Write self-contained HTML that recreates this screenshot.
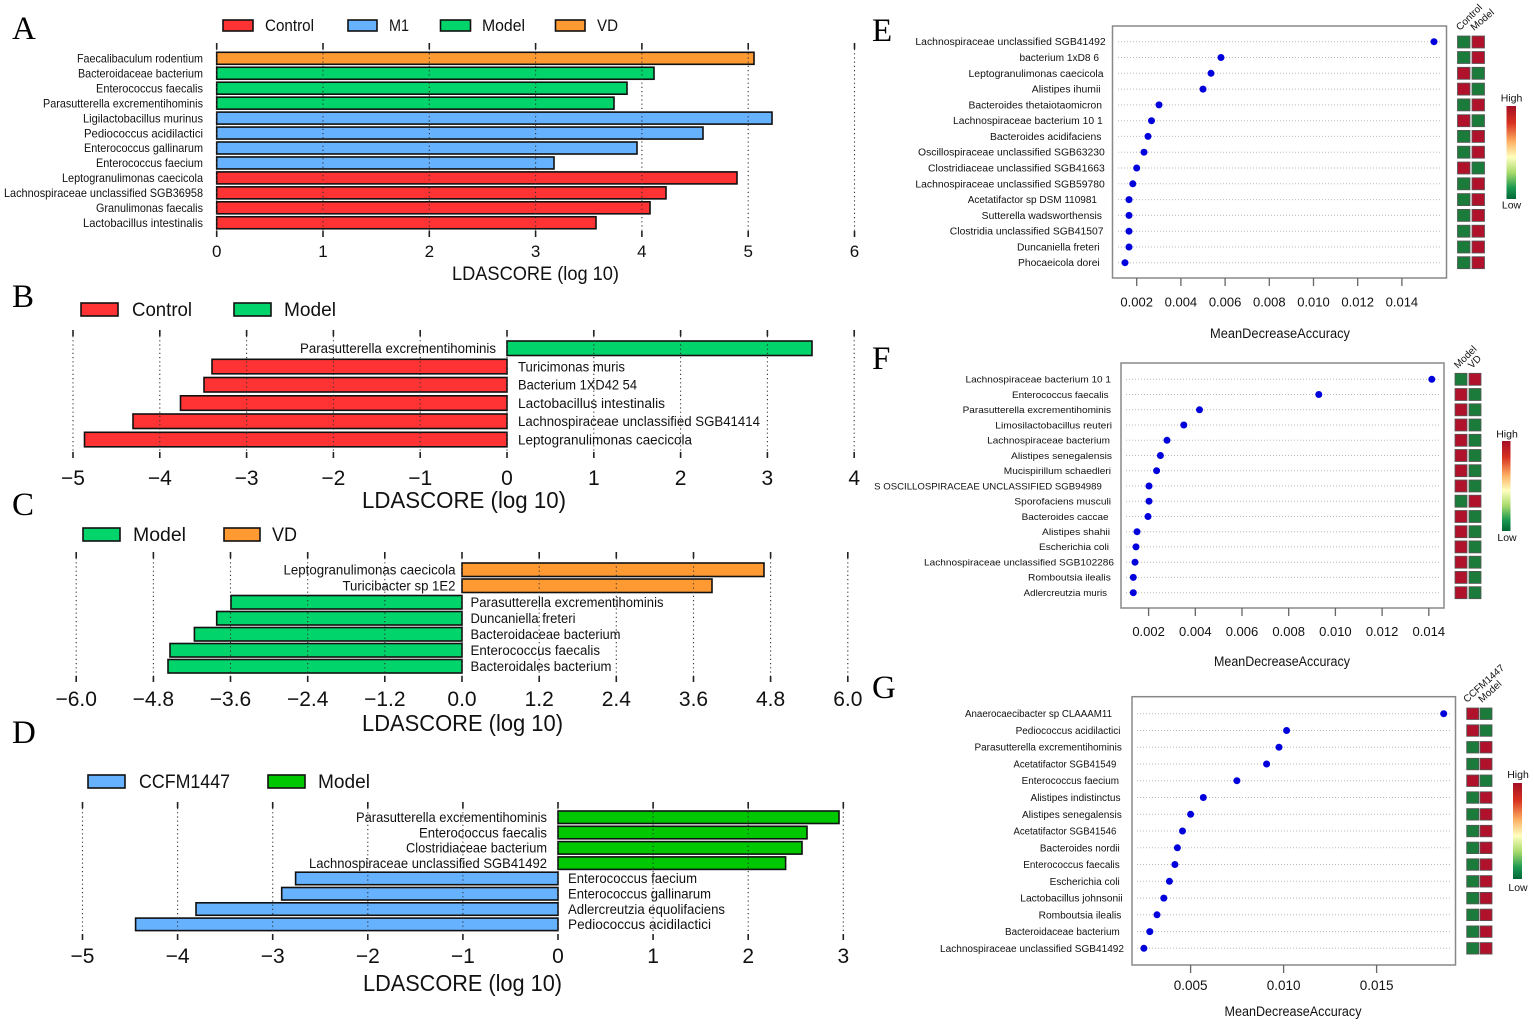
<!DOCTYPE html>
<html><head><meta charset="utf-8"><style>
html,body{margin:0;padding:0;background:#fff;}
svg{display:block;}
text{font-family:"Liberation Sans",Arial,sans-serif;fill:#111;}
.L{font-family:"Liberation Serif","Times New Roman",serif;font-size:33px;fill:#000;}
.grid{stroke:#333;stroke-width:1.1;stroke-dasharray:1.2 3;fill:none;}
.tk{stroke:#222;stroke-width:1.6;fill:none;}
.bar{stroke:#111;stroke-width:1.6;}
.r{fill:#FF3333}.b{fill:#66B2FF}.g{fill:#00D46A}.o{fill:#FF9A33}.g2{fill:#00C800}
.hr{fill:#B0122C;stroke:#555;stroke-width:0.8}.hg{fill:#1B7B3A;stroke:#555;stroke-width:0.8}
.rl{stroke:#bbb;stroke-width:1;stroke-dasharray:1 2;}
.box{fill:none;stroke:#888;stroke-width:1.5}
.dot{fill:#0000DD}
</style></head><body>
<svg width="1535" height="1027" viewBox="0 0 1535 1027" xmlns="http://www.w3.org/2000/svg">
<defs>
<linearGradient id="cb" x1="0" y1="0" x2="0" y2="1">
<stop offset="0" stop-color="#A50F26"/>
<stop offset="0.18" stop-color="#D7301F"/>
<stop offset="0.38" stop-color="#FDAE61"/>
<stop offset="0.55" stop-color="#FFFFBF"/>
<stop offset="0.72" stop-color="#A6D96A"/>
<stop offset="0.88" stop-color="#1A9850"/>
<stop offset="1" stop-color="#006837"/>
</linearGradient>
</defs>
<rect width="1535" height="1027" fill="#fff"/>

<!-- ================= PANEL A ================= -->
<text class="L" x="12" y="39">A</text>
<rect class="bar r" x="223" y="20" width="30" height="11"/>
<text x="265" y="31" font-size="17" textLength="49" lengthAdjust="spacingAndGlyphs">Control</text>
<rect class="bar b" x="348" y="20" width="29" height="11"/>
<text x="389" y="31" font-size="17" textLength="20" lengthAdjust="spacingAndGlyphs">M1</text>
<rect class="bar g" x="440.5" y="20" width="30" height="11"/>
<text x="482" y="31" font-size="17" textLength="43" lengthAdjust="spacingAndGlyphs">Model</text>
<rect class="bar o" x="555.5" y="20" width="29.5" height="11"/>
<text x="597" y="31" font-size="17" textLength="21" lengthAdjust="spacingAndGlyphs">VD</text>

<rect class="bar o" x="216.7" y="52.3" width="537.3" height="12"/>
<rect class="bar g" x="216.7" y="67.25" width="437.3" height="12"/>
<rect class="bar g" x="216.7" y="82.2" width="410.3" height="12"/>
<rect class="bar g" x="216.7" y="97.15" width="397.3" height="12"/>
<rect class="bar b" x="216.7" y="112.1" width="555.3" height="12"/>
<rect class="bar b" x="216.7" y="127.05" width="486.3" height="12"/>
<rect class="bar b" x="216.7" y="142" width="420.3" height="12"/>
<rect class="bar b" x="216.7" y="156.95" width="337.3" height="12"/>
<rect class="bar r" x="216.7" y="171.9" width="520.3" height="12"/>
<rect class="bar r" x="216.7" y="186.85" width="449.3" height="12"/>
<rect class="bar r" x="216.7" y="201.8" width="433.3" height="12"/>
<rect class="bar r" x="216.7" y="216.75" width="379.3" height="12"/>
<path class="grid" d="M216.7 49V231M323 49V231M429.3 49V231M535.6 49V231M641.9 49V231M748.2 49V231M854.5 49V231"/>
<path class="tk" d="M216.7 43V49M323 43V49M429.3 43V49M535.6 43V49M641.9 43V49M748.2 43V49M854.5 43V49M216.7 231V237M323 231V237M429.3 231V237M535.6 231V237M641.9 231V237M748.2 231V237M854.5 231V237"/>
<g font-size="12" text-anchor="end">
<text x="203" y="62.5" textLength="126" lengthAdjust="spacingAndGlyphs">Faecalibaculum rodentium</text>
<text x="203" y="77.45" textLength="125" lengthAdjust="spacingAndGlyphs">Bacteroidaceae bacterium</text>
<text x="203" y="92.4" textLength="107" lengthAdjust="spacingAndGlyphs">Enterococcus faecalis</text>
<text x="203" y="107.35" textLength="160" lengthAdjust="spacingAndGlyphs">Parasutterella excrementihominis</text>
<text x="203" y="122.3" textLength="120" lengthAdjust="spacingAndGlyphs">Ligilactobacillus murinus</text>
<text x="203" y="137.25" textLength="119" lengthAdjust="spacingAndGlyphs">Pediococcus acidilactici</text>
<text x="203" y="152.2" textLength="119" lengthAdjust="spacingAndGlyphs">Enterococcus gallinarum</text>
<text x="203" y="167.15" textLength="107" lengthAdjust="spacingAndGlyphs">Enterococcus faecium</text>
<text x="203" y="182.1" textLength="141" lengthAdjust="spacingAndGlyphs">Leptogranulimonas caecicola</text>
<text x="203" y="197.05" textLength="199" lengthAdjust="spacingAndGlyphs">Lachnospiraceae unclassified SGB36958</text>
<text x="203" y="212" textLength="107" lengthAdjust="spacingAndGlyphs">Granulimonas faecalis</text>
<text x="203" y="226.95" textLength="120" lengthAdjust="spacingAndGlyphs">Lactobacillus intestinalis</text>
</g>
<g font-size="17" text-anchor="middle">
<text x="216.7" y="257">0</text><text x="323" y="257">1</text><text x="429.3" y="257">2</text><text x="535.6" y="257">3</text><text x="641.9" y="257">4</text><text x="748.2" y="257">5</text><text x="854.5" y="257">6</text>
</g>
<text x="452" y="280" font-size="19" textLength="167" lengthAdjust="spacingAndGlyphs">LDASCORE (log 10)</text>

<!-- ================= PANEL B ================= -->
<text class="L" x="12" y="307">B</text>
<rect class="bar r" x="81" y="303" width="37" height="13"/>
<text x="132" y="316" font-size="19" textLength="60" lengthAdjust="spacingAndGlyphs">Control</text>
<rect class="bar g" x="234" y="303" width="37" height="13"/>
<text x="284" y="316" font-size="19" textLength="52" lengthAdjust="spacingAndGlyphs">Model</text>

<rect class="bar g" x="507" y="341" width="305" height="14.5"/>
<rect class="bar r" x="212" y="359.3" width="295" height="14.5"/>
<rect class="bar r" x="204" y="377.5" width="303" height="14.5"/>
<rect class="bar r" x="180.5" y="395.8" width="326.5" height="14.5"/>
<rect class="bar r" x="133" y="414" width="374" height="14.5"/>
<rect class="bar r" x="84.5" y="432.3" width="422.5" height="14.5"/>
<path class="grid" d="M73 336V452M159.8 336V452M246.6 336V452M333.4 336V452M420.2 336V452M507 336V452M593.8 336V452M680.6 336V452M767.4 336V452M854.2 336V452"/>
<path class="tk" d="M73 330V336M159.8 330V336M246.6 330V336M333.4 330V336M420.2 330V336M507 330V336M593.8 330V336M680.6 330V336M767.4 330V336M854.2 330V336M73 452V458M159.8 452V458M246.6 452V458M333.4 452V458M420.2 452V458M507 452V458M593.8 452V458M680.6 452V458M767.4 452V458M854.2 452V458"/>
<g font-size="13.5">
<text x="496" y="353" text-anchor="end" textLength="196" lengthAdjust="spacingAndGlyphs">Parasutterella excrementihominis</text>
<text x="518" y="371.3" textLength="107" lengthAdjust="spacingAndGlyphs">Turicimonas muris</text>
<text x="518" y="389.5" textLength="119" lengthAdjust="spacingAndGlyphs">Bacterium 1XD42 54</text>
<text x="518" y="407.8" textLength="147" lengthAdjust="spacingAndGlyphs">Lactobacillus intestinalis</text>
<text x="518" y="426" textLength="242" lengthAdjust="spacingAndGlyphs">Lachnospiraceae unclassified SGB41414</text>
<text x="518" y="444.3" textLength="174" lengthAdjust="spacingAndGlyphs">Leptogranulimonas caecicola</text>
</g>
<g font-size="21" text-anchor="middle">
<text x="73" y="485">−5</text><text x="159.8" y="485">−4</text><text x="246.6" y="485">−3</text><text x="333.4" y="485">−2</text><text x="420.2" y="485">−1</text><text x="507" y="485">0</text><text x="593.8" y="485">1</text><text x="680.6" y="485">2</text><text x="767.4" y="485">3</text><text x="854.2" y="485">4</text>
</g>
<text x="362" y="508" font-size="23" textLength="204" lengthAdjust="spacingAndGlyphs">LDASCORE (log 10)</text>

<!-- ================= PANEL C ================= -->
<text class="L" x="12" y="515">C</text>
<rect class="bar g" x="83" y="528" width="37" height="13"/>
<text x="133" y="541" font-size="19" textLength="53" lengthAdjust="spacingAndGlyphs">Model</text>
<rect class="bar o" x="224" y="528" width="36" height="13"/>
<text x="272" y="541" font-size="19" textLength="25" lengthAdjust="spacingAndGlyphs">VD</text>

<rect class="bar o" x="462" y="563" width="302" height="13.5"/>
<rect class="bar o" x="462" y="579" width="250" height="13.5"/>
<rect class="bar g" x="231" y="595.5" width="231" height="13.5"/>
<rect class="bar g" x="216.7" y="611.5" width="245.3" height="13.5"/>
<rect class="bar g" x="194.4" y="627.5" width="267.6" height="13.5"/>
<rect class="bar g" x="170" y="643.5" width="292" height="13.5"/>
<rect class="bar g" x="168" y="659.5" width="294" height="13.5"/>
<path class="grid" d="M76.2 558V676M153.4 558V676M230.5 558V676M307.7 558V676M384.8 558V676M462 558V676M539.2 558V676M616.3 558V676M693.5 558V676M770.6 558V676M847.8 558V676"/>
<path class="tk" d="M76.2 552V558M153.4 552V558M230.5 552V558M307.7 552V558M384.8 552V558M462 552V558M539.2 552V558M616.3 552V558M693.5 552V558M770.6 552V558M847.8 552V558M76.2 676V682M153.4 676V682M230.5 676V682M307.7 676V682M384.8 676V682M462 676V682M539.2 676V682M616.3 676V682M693.5 676V682M770.6 676V682M847.8 676V682"/>
<g font-size="13.5">
<text x="455.5" y="574.5" text-anchor="end" textLength="172" lengthAdjust="spacingAndGlyphs">Leptogranulimonas caecicola</text>
<text x="455.5" y="590.5" text-anchor="end" textLength="113" lengthAdjust="spacingAndGlyphs">Turicibacter sp 1E2</text>
<text x="470.5" y="607" textLength="193" lengthAdjust="spacingAndGlyphs">Parasutterella excrementihominis</text>
<text x="470.5" y="623" textLength="105" lengthAdjust="spacingAndGlyphs">Duncaniella freteri</text>
<text x="470.5" y="639" textLength="150" lengthAdjust="spacingAndGlyphs">Bacteroidaceae bacterium</text>
<text x="470.5" y="655" textLength="129.5" lengthAdjust="spacingAndGlyphs">Enterococcus faecalis</text>
<text x="470.5" y="671" textLength="141" lengthAdjust="spacingAndGlyphs">Bacteroidales bacterium</text>
</g>
<g font-size="21" text-anchor="middle">
<text x="76.2" y="706">−6.0</text><text x="153.4" y="706">−4.8</text><text x="230.5" y="706">−3.6</text><text x="307.7" y="706">−2.4</text><text x="384.8" y="706">−1.2</text><text x="462" y="706">0.0</text><text x="539.2" y="706">1.2</text><text x="616.3" y="706">2.4</text><text x="693.5" y="706">3.6</text><text x="770.6" y="706">4.8</text><text x="847.8" y="706">6.0</text>
</g>
<text x="362" y="731" font-size="23" textLength="201" lengthAdjust="spacingAndGlyphs">LDASCORE (log 10)</text>

<!-- ================= PANEL D ================= -->
<text class="L" x="12" y="743">D</text>
<rect class="bar b" x="88" y="775" width="37" height="13"/>
<text x="139" y="788" font-size="19" textLength="91" lengthAdjust="spacingAndGlyphs">CCFM1447</text>
<rect class="bar g2" x="268" y="775" width="37" height="13"/>
<text x="318" y="788" font-size="19" textLength="52" lengthAdjust="spacingAndGlyphs">Model</text>

<rect class="bar g2" x="558" y="811" width="281" height="12.5"/>
<rect class="bar g2" x="558" y="826.3" width="249" height="12.5"/>
<rect class="bar g2" x="558" y="841.6" width="244" height="12.5"/>
<rect class="bar g2" x="558" y="856.9" width="227.6" height="12.5"/>
<rect class="bar b" x="295.6" y="872.2" width="262.4" height="12.5"/>
<rect class="bar b" x="281.7" y="887.5" width="276.3" height="12.5"/>
<rect class="bar b" x="196" y="902.8" width="362" height="12.5"/>
<rect class="bar b" x="135.6" y="918.1" width="422.4" height="12.5"/>
<path class="grid" d="M82.5 808V934M177.6 808V934M272.7 808V934M367.8 808V934M462.9 808V934M558 808V934M653.1 808V934M748.2 808V934M843.3 808V934"/>
<path class="tk" d="M82.5 802V808M177.6 802V808M272.7 802V808M367.8 802V808M462.9 802V808M558 802V808M653.1 802V808M748.2 802V808M843.3 802V808M82.5 934V940M177.6 934V940M272.7 934V940M367.8 934V940M462.9 934V940M558 934V940M653.1 934V940M748.2 934V940M843.3 934V940"/>
<g font-size="14">
<text x="547" y="822" text-anchor="end" textLength="191" lengthAdjust="spacingAndGlyphs">Parasutterella excrementihominis</text>
<text x="547" y="837.3" text-anchor="end" textLength="128" lengthAdjust="spacingAndGlyphs">Enterococcus faecalis</text>
<text x="547" y="852.6" text-anchor="end" textLength="141" lengthAdjust="spacingAndGlyphs">Clostridiaceae bacterium</text>
<text x="547" y="867.9" text-anchor="end" textLength="238" lengthAdjust="spacingAndGlyphs">Lachnospiraceae unclassified SGB41492</text>
<text x="568" y="883.2" textLength="129" lengthAdjust="spacingAndGlyphs">Enterococcus faecium</text>
<text x="568" y="898.5" textLength="143" lengthAdjust="spacingAndGlyphs">Enterococcus gallinarum</text>
<text x="568" y="913.8" textLength="157" lengthAdjust="spacingAndGlyphs">Adlercreutzia equolifaciens</text>
<text x="568" y="929.1" textLength="143" lengthAdjust="spacingAndGlyphs">Pediococcus acidilactici</text>
</g>
<g font-size="21" text-anchor="middle">
<text x="82.5" y="963">−5</text><text x="177.6" y="963">−4</text><text x="272.7" y="963">−3</text><text x="367.8" y="963">−2</text><text x="462.9" y="963">−1</text><text x="558" y="963">0</text><text x="653.1" y="963">1</text><text x="748.2" y="963">2</text><text x="843.3" y="963">3</text>
</g>
<text x="363" y="991" font-size="23" textLength="199" lengthAdjust="spacingAndGlyphs">LDASCORE (log 10)</text>

<!-- ================= PANEL E ================= -->
<text class="L" x="872" y="41">E</text>
<path class="rl" d="M1118 41.7H1442M1118 57.5H1442M1118 73.3H1442M1118 89.1H1442M1118 104.9H1442M1118 120.7H1442M1118 136.4H1442M1118 152.2H1442M1118 168H1442M1118 183.8H1442M1118 199.6H1442M1118 215.4H1442M1118 231.2H1442M1118 247H1442M1118 262.7H1442"/>
<rect class="box" x="1112.5" y="26" width="334" height="252"/>
<g class="dot">
<circle cx="1434" cy="41.7" r="3.5"/><circle cx="1221" cy="57.5" r="3.5"/><circle cx="1211" cy="73.3" r="3.5"/><circle cx="1203" cy="89.1" r="3.5"/><circle cx="1159" cy="104.9" r="3.5"/><circle cx="1151.5" cy="120.7" r="3.5"/><circle cx="1148" cy="136.4" r="3.5"/><circle cx="1144" cy="152.2" r="3.5"/><circle cx="1136.7" cy="168" r="3.5"/><circle cx="1132.8" cy="183.8" r="3.5"/><circle cx="1129" cy="199.6" r="3.5"/><circle cx="1129" cy="215.4" r="3.5"/><circle cx="1129" cy="231.2" r="3.5"/><circle cx="1129" cy="247" r="3.5"/><circle cx="1125" cy="262.7" r="3.5"/>
</g>
<g font-size="10">
<text x="915.4" y="45.2" textLength="190.3" lengthAdjust="spacingAndGlyphs">Lachnospiraceae unclassified SGB41492</text>
<text x="1019.5" y="61" textLength="79.5" lengthAdjust="spacingAndGlyphs">bacterium 1xD8 6</text>
<text x="968.5" y="76.8" textLength="135" lengthAdjust="spacingAndGlyphs">Leptogranulimonas caecicola</text>
<text x="1031.8" y="92.6" textLength="68.8" lengthAdjust="spacingAndGlyphs">Alistipes ihumii</text>
<text x="968.5" y="108.4" textLength="133.5" lengthAdjust="spacingAndGlyphs">Bacteroides thetaiotaomicron</text>
<text x="953" y="124.2" textLength="149.7" lengthAdjust="spacingAndGlyphs">Lachnospiraceae bacterium 10 1</text>
<text x="990" y="139.9" textLength="111.4" lengthAdjust="spacingAndGlyphs">Bacteroides acidifaciens</text>
<text x="918" y="155.7" textLength="186.8" lengthAdjust="spacingAndGlyphs">Oscillospiraceae unclassified SGB63230</text>
<text x="928" y="171.5" textLength="176.8" lengthAdjust="spacingAndGlyphs">Clostridiaceae unclassified SGB41663</text>
<text x="915.4" y="187.3" textLength="189.4" lengthAdjust="spacingAndGlyphs">Lachnospiraceae unclassified SGB59780</text>
<text x="967.7" y="203.1" textLength="129.3" lengthAdjust="spacingAndGlyphs">Acetatifactor sp DSM 110981</text>
<text x="981.7" y="218.9" textLength="120.3" lengthAdjust="spacingAndGlyphs">Sutterella wadsworthensis</text>
<text x="949.8" y="234.7" textLength="153.7" lengthAdjust="spacingAndGlyphs">Clostridia unclassified SGB41507</text>
<text x="1017" y="250.5" textLength="82.7" lengthAdjust="spacingAndGlyphs">Duncaniella freteri</text>
<text x="1018" y="266.2" textLength="81.7" lengthAdjust="spacingAndGlyphs">Phocaeicola dorei</text>
</g>
<path d="M1136.7 278V286M1180.9 278V286M1225.1 278V286M1269.3 278V286M1313.5 278V286M1357.7 278V286M1401.9 278V286" stroke="#666" stroke-width="1.3"/>
<g font-size="13" text-anchor="middle" fill="#222">
<text x="1136.7" y="306.7">0.002</text><text x="1180.9" y="306.7">0.004</text><text x="1225.1" y="306.7">0.006</text><text x="1269.3" y="306.7">0.008</text><text x="1313.5" y="306.7">0.010</text><text x="1357.7" y="306.7">0.012</text><text x="1401.9" y="306.7">0.014</text>
</g>
<text x="1280" y="338" font-size="13.5" text-anchor="middle" textLength="140" lengthAdjust="spacingAndGlyphs">MeanDecreaseAccuracy</text>
<!-- E heatmap -->
<g>
<rect class="hg" x="1457.5" y="36" width="12.5" height="12"/><rect class="hr" x="1472" y="36" width="12.5" height="12"/>
<rect class="hg" x="1457.5" y="51.5" width="12.5" height="12"/><rect class="hr" x="1472" y="51.5" width="12.5" height="12"/>
<rect class="hr" x="1457.5" y="67.3" width="12.5" height="12"/><rect class="hg" x="1472" y="67.3" width="12.5" height="12"/>
<rect class="hr" x="1457.5" y="83.1" width="12.5" height="12"/><rect class="hg" x="1472" y="83.1" width="12.5" height="12"/>
<rect class="hg" x="1457.5" y="98.9" width="12.5" height="12"/><rect class="hr" x="1472" y="98.9" width="12.5" height="12"/>
<rect class="hr" x="1457.5" y="114.7" width="12.5" height="12"/><rect class="hg" x="1472" y="114.7" width="12.5" height="12"/>
<rect class="hg" x="1457.5" y="130.4" width="12.5" height="12"/><rect class="hr" x="1472" y="130.4" width="12.5" height="12"/>
<rect class="hg" x="1457.5" y="146.2" width="12.5" height="12"/><rect class="hr" x="1472" y="146.2" width="12.5" height="12"/>
<rect class="hr" x="1457.5" y="162" width="12.5" height="12"/><rect class="hg" x="1472" y="162" width="12.5" height="12"/>
<rect class="hg" x="1457.5" y="177.8" width="12.5" height="12"/><rect class="hr" x="1472" y="177.8" width="12.5" height="12"/>
<rect class="hg" x="1457.5" y="193.6" width="12.5" height="12"/><rect class="hr" x="1472" y="193.6" width="12.5" height="12"/>
<rect class="hg" x="1457.5" y="209.4" width="12.5" height="12"/><rect class="hr" x="1472" y="209.4" width="12.5" height="12"/>
<rect class="hg" x="1457.5" y="225.2" width="12.5" height="12"/><rect class="hr" x="1472" y="225.2" width="12.5" height="12"/>
<rect class="hg" x="1457.5" y="241" width="12.5" height="12"/><rect class="hr" x="1472" y="241" width="12.5" height="12"/>
<rect class="hg" x="1457.5" y="256.7" width="12.5" height="12"/><rect class="hr" x="1472" y="256.7" width="12.5" height="12"/>
</g>
<text x="1460" y="31" font-size="10" fill="#222" transform="rotate(-45 1460 31)">Control</text>
<text x="1474" y="31" font-size="10" fill="#222" transform="rotate(-40 1474 31)">Model</text>
<rect x="1506.5" y="106" width="9.5" height="93" fill="url(#cb)"/>
<text x="1511.5" y="101.7" font-size="10.5" text-anchor="middle" fill="#222">High</text>
<text x="1511.5" y="208.5" font-size="10.5" text-anchor="middle" fill="#222">Low</text>

<!-- ================= PANEL F ================= -->
<text class="L" x="872" y="369">F</text>
<path class="rl" d="M1126 379.3H1439M1126 394.5H1439M1126 409.8H1439M1126 425H1439M1126 440.3H1439M1126 455.5H1439M1126 470.7H1439M1126 486H1439M1126 501.2H1439M1126 516.5H1439M1126 531.7H1439M1126 546.9H1439M1126 562.2H1439M1126 577.4H1439M1126 592.7H1439"/>
<rect class="box" x="1121" y="363" width="323" height="245"/>
<g class="dot">
<circle cx="1431.8" cy="379.3" r="3.5"/><circle cx="1318.8" cy="394.5" r="3.5"/><circle cx="1199.5" cy="409.8" r="3.5"/><circle cx="1183.8" cy="425" r="3.5"/><circle cx="1167" cy="440.3" r="3.5"/><circle cx="1160.4" cy="455.5" r="3.5"/><circle cx="1156.6" cy="470.7" r="3.5"/><circle cx="1149" cy="486" r="3.5"/><circle cx="1149" cy="501.2" r="3.5"/><circle cx="1148" cy="516.5" r="3.5"/><circle cx="1137" cy="531.7" r="3.5"/><circle cx="1136" cy="546.9" r="3.5"/><circle cx="1135" cy="562.2" r="3.5"/><circle cx="1133.3" cy="577.4" r="3.5"/><circle cx="1133.3" cy="592.7" r="3.5"/>
</g>
<g font-size="9.5">
<text x="965.5" y="382.6" textLength="145.5" lengthAdjust="spacingAndGlyphs">Lachnospiraceae bacterium 10 1</text>
<text x="1012" y="397.8" textLength="96.6" lengthAdjust="spacingAndGlyphs">Enterococcus faecalis</text>
<text x="962.6" y="413.1" textLength="148.4" lengthAdjust="spacingAndGlyphs">Parasutterella excrementihominis</text>
<text x="995.3" y="428.3" textLength="116.7" lengthAdjust="spacingAndGlyphs">Limosilactobacillus reuteri</text>
<text x="987.2" y="443.6" textLength="122.8" lengthAdjust="spacingAndGlyphs">Lachnospiraceae bacterium</text>
<text x="1011" y="458.8" textLength="101" lengthAdjust="spacingAndGlyphs">Alistipes senegalensis</text>
<text x="1003.8" y="474" textLength="107.2" lengthAdjust="spacingAndGlyphs">Mucispirillum schaedleri</text>
<text x="874.2" y="489.3" textLength="227.6" lengthAdjust="spacingAndGlyphs">S OSCILLOSPIRACEAE UNCLASSIFIED SGB94989</text>
<text x="1014.4" y="504.5" textLength="96.6" lengthAdjust="spacingAndGlyphs">Sporofaciens musculi</text>
<text x="1021.6" y="519.8" textLength="87" lengthAdjust="spacingAndGlyphs">Bacteroides caccae</text>
<text x="1042" y="535" textLength="68" lengthAdjust="spacingAndGlyphs">Alistipes shahii</text>
<text x="1039" y="550.2" textLength="70" lengthAdjust="spacingAndGlyphs">Escherichia coli</text>
<text x="924" y="565.5" textLength="190" lengthAdjust="spacingAndGlyphs">Lachnospiraceae unclassified SGB102286</text>
<text x="1028" y="580.7" textLength="82.8" lengthAdjust="spacingAndGlyphs">Romboutsia ilealis</text>
<text x="1023.7" y="596" textLength="83.3" lengthAdjust="spacingAndGlyphs">Adlercreutzia muris</text>
</g>
<path d="M1148.6 608V616M1195.3 608V616M1242 608V616M1288.7 608V616M1335.4 608V616M1382.1 608V616M1428.8 608V616" stroke="#666" stroke-width="1.3"/>
<g font-size="13" text-anchor="middle" fill="#222">
<text x="1148.6" y="636">0.002</text><text x="1195.3" y="636">0.004</text><text x="1242" y="636">0.006</text><text x="1288.7" y="636">0.008</text><text x="1335.4" y="636">0.010</text><text x="1382.1" y="636">0.012</text><text x="1428.8" y="636">0.014</text>
</g>
<text x="1282" y="666" font-size="13.5" text-anchor="middle" textLength="136" lengthAdjust="spacingAndGlyphs">MeanDecreaseAccuracy</text>
<!-- F heatmap -->
<g>
<rect class="hg" x="1455" y="373.3" width="12" height="12"/><rect class="hr" x="1469" y="373.3" width="12" height="12"/>
<rect class="hr" x="1455" y="388.5" width="12" height="12"/><rect class="hg" x="1469" y="388.5" width="12" height="12"/>
<rect class="hr" x="1455" y="403.8" width="12" height="12"/><rect class="hg" x="1469" y="403.8" width="12" height="12"/>
<rect class="hr" x="1455" y="419" width="12" height="12"/><rect class="hg" x="1469" y="419" width="12" height="12"/>
<rect class="hr" x="1455" y="434.3" width="12" height="12"/><rect class="hg" x="1469" y="434.3" width="12" height="12"/>
<rect class="hr" x="1455" y="449.5" width="12" height="12"/><rect class="hg" x="1469" y="449.5" width="12" height="12"/>
<rect class="hr" x="1455" y="464.7" width="12" height="12"/><rect class="hg" x="1469" y="464.7" width="12" height="12"/>
<rect class="hr" x="1455" y="480" width="12" height="12"/><rect class="hg" x="1469" y="480" width="12" height="12"/>
<rect class="hg" x="1455" y="495.2" width="12" height="12"/><rect class="hr" x="1469" y="495.2" width="12" height="12"/>
<rect class="hr" x="1455" y="510.5" width="12" height="12"/><rect class="hg" x="1469" y="510.5" width="12" height="12"/>
<rect class="hr" x="1455" y="525.7" width="12" height="12"/><rect class="hg" x="1469" y="525.7" width="12" height="12"/>
<rect class="hr" x="1455" y="540.9" width="12" height="12"/><rect class="hg" x="1469" y="540.9" width="12" height="12"/>
<rect class="hr" x="1455" y="556.2" width="12" height="12"/><rect class="hg" x="1469" y="556.2" width="12" height="12"/>
<rect class="hr" x="1455" y="571.4" width="12" height="12"/><rect class="hg" x="1469" y="571.4" width="12" height="12"/>
<rect class="hr" x="1455" y="586.7" width="12" height="12"/><rect class="hg" x="1469" y="586.7" width="12" height="12"/>
</g>
<text x="1458" y="369" font-size="10" fill="#222" transform="rotate(-45 1458 369)">Model</text>
<text x="1472" y="369" font-size="10" fill="#222" transform="rotate(-45 1472 369)">VD</text>
<rect x="1502" y="441" width="8.5" height="90" fill="url(#cb)"/>
<text x="1507" y="437.5" font-size="10.5" text-anchor="middle" fill="#222">High</text>
<text x="1507" y="541" font-size="10.5" text-anchor="middle" fill="#222">Low</text>

<!-- ================= PANEL G ================= -->
<text class="L" x="872" y="698">G</text>
<path class="rl" d="M1137 713.7H1451M1137 730.5H1451M1137 747.2H1451M1137 764H1451M1137 780.7H1451M1137 797.5H1451M1137 814.3H1451M1137 831H1451M1137 847.8H1451M1137 864.5H1451M1137 881.3H1451M1137 898.1H1451M1137 914.8H1451M1137 931.6H1451M1137 948.3H1451"/>
<rect class="box" x="1132" y="696.7" width="323.5" height="268.3"/>
<g class="dot">
<circle cx="1443.7" cy="713.7" r="3.5"/><circle cx="1286.6" cy="730.5" r="3.5"/><circle cx="1279" cy="747.2" r="3.5"/><circle cx="1266.6" cy="764" r="3.5"/><circle cx="1236.9" cy="780.7" r="3.5"/><circle cx="1203.3" cy="797.5" r="3.5"/><circle cx="1190.6" cy="814.3" r="3.5"/><circle cx="1182.5" cy="831" r="3.5"/><circle cx="1177.4" cy="847.8" r="3.5"/><circle cx="1174.9" cy="864.5" r="3.5"/><circle cx="1169.4" cy="881.3" r="3.5"/><circle cx="1163.8" cy="898.1" r="3.5"/><circle cx="1157" cy="914.8" r="3.5"/><circle cx="1149.8" cy="931.6" r="3.5"/><circle cx="1143.9" cy="948.3" r="3.5"/>
</g>
<g font-size="10">
<text x="965" y="717.2" textLength="147" lengthAdjust="spacingAndGlyphs">Anaerocaecibacter sp CLAAAM11</text>
<text x="1015.6" y="734" textLength="104.9" lengthAdjust="spacingAndGlyphs">Pediococcus acidilactici</text>
<text x="974.5" y="750.7" textLength="147.3" lengthAdjust="spacingAndGlyphs">Parasutterella excrementihominis</text>
<text x="1013.5" y="767.5" textLength="102.8" lengthAdjust="spacingAndGlyphs">Acetatifactor SGB41549</text>
<text x="1021.6" y="784.2" textLength="97.4" lengthAdjust="spacingAndGlyphs">Enterococcus faecium</text>
<text x="1030.5" y="801" textLength="90" lengthAdjust="spacingAndGlyphs">Alistipes indistinctus</text>
<text x="1022" y="817.8" textLength="99.8" lengthAdjust="spacingAndGlyphs">Alistipes senegalensis</text>
<text x="1013.5" y="834.5" textLength="102.8" lengthAdjust="spacingAndGlyphs">Acetatifactor SGB41546</text>
<text x="1039.9" y="851.3" textLength="79.8" lengthAdjust="spacingAndGlyphs">Bacteroides nordii</text>
<text x="1023.3" y="868" textLength="96.4" lengthAdjust="spacingAndGlyphs">Enterococcus faecalis</text>
<text x="1049.6" y="884.8" textLength="70.1" lengthAdjust="spacingAndGlyphs">Escherichia coli</text>
<text x="1020.3" y="901.6" textLength="102.4" lengthAdjust="spacingAndGlyphs">Lactobacillus johnsonii</text>
<text x="1038.6" y="918.3" textLength="82.8" lengthAdjust="spacingAndGlyphs">Romboutsia ilealis</text>
<text x="1005" y="935.1" textLength="114.7" lengthAdjust="spacingAndGlyphs">Bacteroidaceae bacterium</text>
<text x="940" y="951.8" textLength="184" lengthAdjust="spacingAndGlyphs">Lachnospiraceae unclassified SGB41492</text>
</g>
<path d="M1190.6 965V973M1283.6 965V973M1376.6 965V973" stroke="#666" stroke-width="1.3"/>
<g font-size="13.5" text-anchor="middle" fill="#222">
<text x="1190.6" y="990">0.005</text><text x="1283.6" y="990">0.010</text><text x="1376.6" y="990">0.015</text>
</g>
<text x="1293" y="1016" font-size="13.5" text-anchor="middle" textLength="137" lengthAdjust="spacingAndGlyphs">MeanDecreaseAccuracy</text>
<!-- G heatmap -->
<g>
<rect class="hr" x="1466.7" y="708" width="12" height="11.5"/><rect class="hg" x="1480" y="708" width="12" height="11.5"/>
<rect class="hr" x="1466.7" y="724.8" width="12" height="11.5"/><rect class="hg" x="1480" y="724.8" width="12" height="11.5"/>
<rect class="hg" x="1466.7" y="741.5" width="12" height="11.5"/><rect class="hr" x="1480" y="741.5" width="12" height="11.5"/>
<rect class="hg" x="1466.7" y="758.3" width="12" height="11.5"/><rect class="hr" x="1480" y="758.3" width="12" height="11.5"/>
<rect class="hr" x="1466.7" y="775" width="12" height="11.5"/><rect class="hg" x="1480" y="775" width="12" height="11.5"/>
<rect class="hg" x="1466.7" y="791.8" width="12" height="11.5"/><rect class="hr" x="1480" y="791.8" width="12" height="11.5"/>
<rect class="hg" x="1466.7" y="808.6" width="12" height="11.5"/><rect class="hr" x="1480" y="808.6" width="12" height="11.5"/>
<rect class="hg" x="1466.7" y="825.3" width="12" height="11.5"/><rect class="hr" x="1480" y="825.3" width="12" height="11.5"/>
<rect class="hg" x="1466.7" y="842.1" width="12" height="11.5"/><rect class="hr" x="1480" y="842.1" width="12" height="11.5"/>
<rect class="hg" x="1466.7" y="858.8" width="12" height="11.5"/><rect class="hr" x="1480" y="858.8" width="12" height="11.5"/>
<rect class="hg" x="1466.7" y="875.6" width="12" height="11.5"/><rect class="hr" x="1480" y="875.6" width="12" height="11.5"/>
<rect class="hg" x="1466.7" y="892.4" width="12" height="11.5"/><rect class="hr" x="1480" y="892.4" width="12" height="11.5"/>
<rect class="hg" x="1466.7" y="909.1" width="12" height="11.5"/><rect class="hr" x="1480" y="909.1" width="12" height="11.5"/>
<rect class="hg" x="1466.7" y="925.9" width="12" height="11.5"/><rect class="hr" x="1480" y="925.9" width="12" height="11.5"/>
<rect class="hg" x="1466.7" y="942.6" width="12" height="11.5"/><rect class="hr" x="1480" y="942.6" width="12" height="11.5"/>
</g>
<text x="1467" y="703" font-size="10" fill="#222" transform="rotate(-42 1467 703)">CCFM1447</text>
<text x="1482" y="703" font-size="10" fill="#222" transform="rotate(-42 1482 703)">Model</text>
<rect x="1513" y="783" width="9" height="96" fill="url(#cb)"/>
<text x="1518" y="778" font-size="10.5" text-anchor="middle" fill="#222">High</text>
<text x="1518" y="891" font-size="10.5" text-anchor="middle" fill="#222">Low</text>
</svg>
</body></html>
